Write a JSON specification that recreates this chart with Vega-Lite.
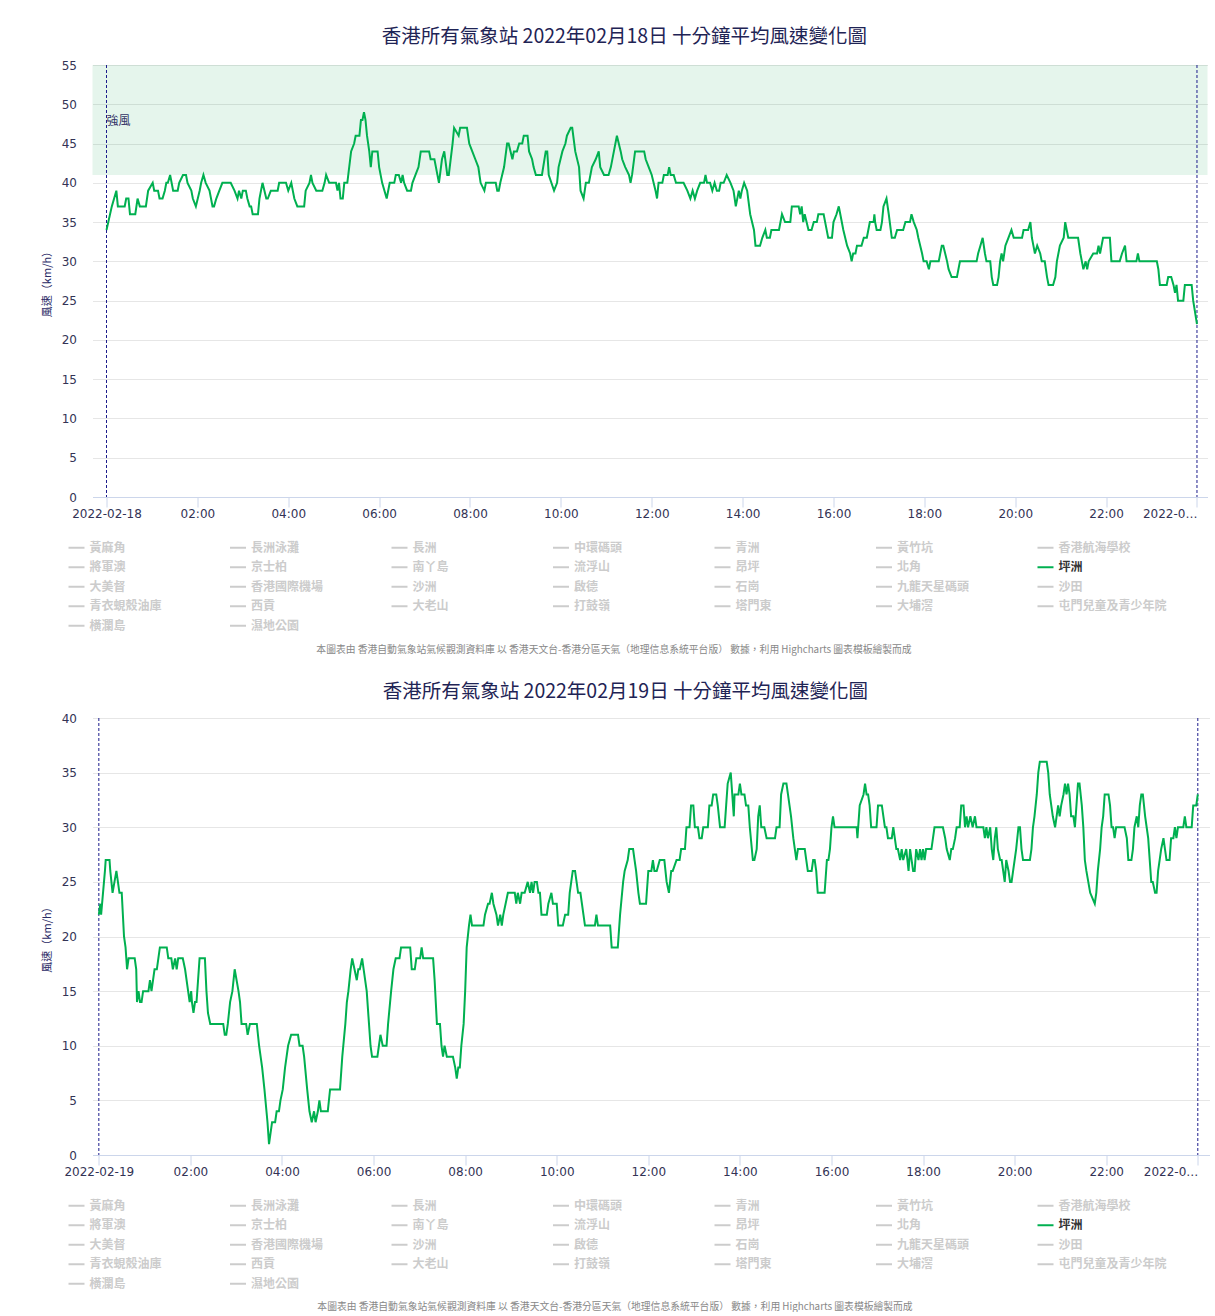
{
"$schema": "https://vega.github.io/schema/vega-lite/v6.json",
"background": "white",
"padding": {"left": 40.5, "top": 26, "right": 0, "bottom": 0},
"datasets": {
"feb18": [
{"time":"2022-02-18T00:00","speed":34},{"time":"2022-02-18T00:07","speed":37},{"time":"2022-02-18T00:13","speed":39},{"time":"2022-02-18T00:15","speed":37},{"time":"2022-02-18T00:24","speed":37},{"time":"2022-02-18T00:26","speed":38},{"time":"2022-02-18T00:29","speed":38},{"time":"2022-02-18T00:31","speed":36},{"time":"2022-02-18T00:38","speed":36},{"time":"2022-02-18T00:41","speed":38},{"time":"2022-02-18T00:44","speed":37},{"time":"2022-02-18T00:52","speed":37},{"time":"2022-02-18T00:55","speed":39},{"time":"2022-02-18T01:01","speed":40},{"time":"2022-02-18T01:03","speed":39},{"time":"2022-02-18T01:08","speed":39},{"time":"2022-02-18T01:10","speed":38},{"time":"2022-02-18T01:14","speed":38},{"time":"2022-02-18T01:17","speed":39},{"time":"2022-02-18T01:19","speed":40},{"time":"2022-02-18T01:21","speed":40},{"time":"2022-02-18T01:24","speed":41},{"time":"2022-02-18T01:28","speed":39},{"time":"2022-02-18T01:34","speed":39},{"time":"2022-02-18T01:36","speed":40},{"time":"2022-02-18T01:41","speed":41},{"time":"2022-02-18T01:45","speed":41},{"time":"2022-02-18T01:47","speed":40},{"time":"2022-02-18T01:52","speed":39},{"time":"2022-02-18T01:54","speed":38},{"time":"2022-02-18T01:58","speed":37},{"time":"2022-02-18T02:03","speed":39},{"time":"2022-02-18T02:05","speed":40},{"time":"2022-02-18T02:08","speed":41},{"time":"2022-02-18T02:11","speed":40},{"time":"2022-02-18T02:16","speed":39},{"time":"2022-02-18T02:20","speed":37},{"time":"2022-02-18T02:22","speed":37},{"time":"2022-02-18T02:25","speed":38},{"time":"2022-02-18T02:29","speed":39},{"time":"2022-02-18T02:33","speed":40},{"time":"2022-02-18T02:44","speed":40},{"time":"2022-02-18T02:49","speed":39},{"time":"2022-02-18T02:53","speed":38},{"time":"2022-02-18T02:55","speed":39},{"time":"2022-02-18T02:58","speed":38},{"time":"2022-02-18T03:00","speed":39},{"time":"2022-02-18T03:04","speed":39},{"time":"2022-02-18T03:06","speed":38},{"time":"2022-02-18T03:09","speed":37},{"time":"2022-02-18T03:11","speed":37},{"time":"2022-02-18T03:13","speed":36},{"time":"2022-02-18T03:20","speed":36},{"time":"2022-02-18T03:22","speed":38},{"time":"2022-02-18T03:24","speed":39},{"time":"2022-02-18T03:26","speed":40},{"time":"2022-02-18T03:31","speed":38},{"time":"2022-02-18T03:33","speed":38},{"time":"2022-02-18T03:37","speed":39},{"time":"2022-02-18T03:46","speed":39},{"time":"2022-02-18T03:48","speed":40},{"time":"2022-02-18T03:57","speed":40},{"time":"2022-02-18T04:00","speed":39},{"time":"2022-02-18T04:04","speed":40},{"time":"2022-02-18T04:06","speed":39},{"time":"2022-02-18T04:08","speed":38},{"time":"2022-02-18T04:12","speed":37},{"time":"2022-02-18T04:21","speed":37},{"time":"2022-02-18T04:23","speed":39},{"time":"2022-02-18T04:28","speed":40},{"time":"2022-02-18T04:30","speed":41},{"time":"2022-02-18T04:32","speed":40},{"time":"2022-02-18T04:37","speed":39},{"time":"2022-02-18T04:45","speed":39},{"time":"2022-02-18T04:48","speed":40},{"time":"2022-02-18T04:50","speed":41},{"time":"2022-02-18T04:54","speed":40},{"time":"2022-02-18T05:03","speed":40},{"time":"2022-02-18T05:05","speed":39},{"time":"2022-02-18T05:07","speed":40},{"time":"2022-02-18T05:09","speed":38},{"time":"2022-02-18T05:12","speed":38},{"time":"2022-02-18T05:14","speed":40},{"time":"2022-02-18T05:18","speed":40},{"time":"2022-02-18T05:23","speed":44},{"time":"2022-02-18T05:27","speed":45},{"time":"2022-02-18T05:29","speed":46},{"time":"2022-02-18T05:34","speed":46},{"time":"2022-02-18T05:36","speed":48},{"time":"2022-02-18T05:38","speed":48},{"time":"2022-02-18T05:40","speed":49},{"time":"2022-02-18T05:42","speed":48},{"time":"2022-02-18T05:44","speed":46},{"time":"2022-02-18T05:47","speed":44},{"time":"2022-02-18T05:49","speed":42},{"time":"2022-02-18T05:51","speed":44},{"time":"2022-02-18T05:58","speed":44},{"time":"2022-02-18T06:00","speed":42},{"time":"2022-02-18T06:04","speed":40},{"time":"2022-02-18T06:10","speed":38},{"time":"2022-02-18T06:14","speed":40},{"time":"2022-02-18T06:20","speed":40},{"time":"2022-02-18T06:22","speed":41},{"time":"2022-02-18T06:26","speed":41},{"time":"2022-02-18T06:29","speed":40},{"time":"2022-02-18T06:31","speed":41},{"time":"2022-02-18T06:33","speed":40},{"time":"2022-02-18T06:37","speed":39},{"time":"2022-02-18T06:42","speed":39},{"time":"2022-02-18T06:44","speed":40},{"time":"2022-02-18T06:48","speed":41},{"time":"2022-02-18T06:52","speed":42},{"time":"2022-02-18T06:55","speed":44},{"time":"2022-02-18T07:06","speed":44},{"time":"2022-02-18T07:08","speed":43},{"time":"2022-02-18T07:13","speed":43},{"time":"2022-02-18T07:15","speed":42},{"time":"2022-02-18T07:19","speed":40},{"time":"2022-02-18T07:23","speed":43},{"time":"2022-02-18T07:26","speed":44},{"time":"2022-02-18T07:30","speed":41},{"time":"2022-02-18T07:32","speed":41},{"time":"2022-02-18T07:37","speed":45},{"time":"2022-02-18T07:39","speed":47},{"time":"2022-02-18T07:45","speed":46},{"time":"2022-02-18T07:47","speed":47},{"time":"2022-02-18T07:56","speed":47},{"time":"2022-02-18T07:59","speed":45},{"time":"2022-02-18T08:03","speed":44},{"time":"2022-02-18T08:07","speed":43},{"time":"2022-02-18T08:11","speed":42},{"time":"2022-02-18T08:14","speed":40},{"time":"2022-02-18T08:19","speed":39},{"time":"2022-02-18T08:21","speed":40},{"time":"2022-02-18T08:34","speed":40},{"time":"2022-02-18T08:36","speed":39},{"time":"2022-02-18T08:38","speed":39},{"time":"2022-02-18T08:40","speed":40},{"time":"2022-02-18T08:45","speed":42},{"time":"2022-02-18T08:49","speed":45},{"time":"2022-02-18T08:51","speed":45},{"time":"2022-02-18T08:56","speed":43},{"time":"2022-02-18T08:58","speed":44},{"time":"2022-02-18T09:02","speed":44},{"time":"2022-02-18T09:05","speed":45},{"time":"2022-02-18T09:09","speed":45},{"time":"2022-02-18T09:11","speed":46},{"time":"2022-02-18T09:16","speed":46},{"time":"2022-02-18T09:18","speed":44},{"time":"2022-02-18T09:22","speed":43},{"time":"2022-02-18T09:24","speed":42},{"time":"2022-02-18T09:27","speed":41},{"time":"2022-02-18T09:35","speed":41},{"time":"2022-02-18T09:40","speed":44},{"time":"2022-02-18T09:42","speed":44},{"time":"2022-02-18T09:44","speed":41},{"time":"2022-02-18T09:51","speed":39},{"time":"2022-02-18T09:55","speed":40},{"time":"2022-02-18T09:57","speed":42},{"time":"2022-02-18T10:02","speed":44},{"time":"2022-02-18T10:06","speed":45},{"time":"2022-02-18T10:08","speed":46},{"time":"2022-02-18T10:13","speed":47},{"time":"2022-02-18T10:15","speed":47},{"time":"2022-02-18T10:19","speed":44},{"time":"2022-02-18T10:24","speed":42},{"time":"2022-02-18T10:26","speed":39},{"time":"2022-02-18T10:30","speed":38},{"time":"2022-02-18T10:33","speed":40},{"time":"2022-02-18T10:37","speed":40},{"time":"2022-02-18T10:39","speed":41},{"time":"2022-02-18T10:41","speed":42},{"time":"2022-02-18T10:46","speed":43},{"time":"2022-02-18T10:50","speed":44},{"time":"2022-02-18T10:52","speed":42},{"time":"2022-02-18T10:57","speed":41},{"time":"2022-02-18T11:03","speed":41},{"time":"2022-02-18T11:06","speed":42},{"time":"2022-02-18T11:10","speed":44},{"time":"2022-02-18T11:14","speed":46},{"time":"2022-02-18T11:19","speed":44},{"time":"2022-02-18T11:21","speed":43},{"time":"2022-02-18T11:25","speed":42},{"time":"2022-02-18T11:30","speed":41},{"time":"2022-02-18T11:32","speed":40},{"time":"2022-02-18T11:34","speed":41},{"time":"2022-02-18T11:38","speed":44},{"time":"2022-02-18T11:50","speed":44},{"time":"2022-02-18T11:52","speed":43},{"time":"2022-02-18T11:56","speed":42},{"time":"2022-02-18T12:00","speed":41},{"time":"2022-02-18T12:05","speed":39},{"time":"2022-02-18T12:07","speed":38},{"time":"2022-02-18T12:09","speed":40},{"time":"2022-02-18T12:14","speed":40},{"time":"2022-02-18T12:16","speed":41},{"time":"2022-02-18T12:21","speed":41},{"time":"2022-02-18T12:23","speed":42},{"time":"2022-02-18T12:25","speed":41},{"time":"2022-02-18T12:29","speed":41},{"time":"2022-02-18T12:32","speed":40},{"time":"2022-02-18T12:42","speed":40},{"time":"2022-02-18T12:47","speed":39},{"time":"2022-02-18T12:51","speed":38},{"time":"2022-02-18T12:54","speed":39},{"time":"2022-02-18T12:57","speed":38},{"time":"2022-02-18T13:00","speed":39},{"time":"2022-02-18T13:04","speed":40},{"time":"2022-02-18T13:09","speed":40},{"time":"2022-02-18T13:11","speed":41},{"time":"2022-02-18T13:13","speed":40},{"time":"2022-02-18T13:17","speed":40},{"time":"2022-02-18T13:20","speed":39},{"time":"2022-02-18T13:23","speed":40},{"time":"2022-02-18T13:26","speed":39},{"time":"2022-02-18T13:29","speed":39},{"time":"2022-02-18T13:31","speed":40},{"time":"2022-02-18T13:35","speed":40},{"time":"2022-02-18T13:39","speed":41},{"time":"2022-02-18T13:44","speed":40},{"time":"2022-02-18T13:48","speed":39},{"time":"2022-02-18T13:51","speed":37},{"time":"2022-02-18T13:55","speed":39},{"time":"2022-02-18T13:57","speed":38},{"time":"2022-02-18T13:59","speed":39},{"time":"2022-02-18T14:02","speed":40},{"time":"2022-02-18T14:06","speed":39},{"time":"2022-02-18T14:10","speed":36},{"time":"2022-02-18T14:15","speed":34},{"time":"2022-02-18T14:17","speed":32},{"time":"2022-02-18T14:23","speed":32},{"time":"2022-02-18T14:26","speed":33},{"time":"2022-02-18T14:30","speed":34},{"time":"2022-02-18T14:32","speed":33},{"time":"2022-02-18T14:36","speed":33},{"time":"2022-02-18T14:38","speed":34},{"time":"2022-02-18T14:48","speed":34},{"time":"2022-02-18T14:52","speed":36},{"time":"2022-02-18T14:56","speed":35},{"time":"2022-02-18T15:03","speed":35},{"time":"2022-02-18T15:05","speed":37},{"time":"2022-02-18T15:14","speed":37},{"time":"2022-02-18T15:16","speed":36},{"time":"2022-02-18T15:18","speed":37},{"time":"2022-02-18T15:20","speed":35},{"time":"2022-02-18T15:22","speed":36},{"time":"2022-02-18T15:27","speed":34},{"time":"2022-02-18T15:31","speed":34},{"time":"2022-02-18T15:34","speed":35},{"time":"2022-02-18T15:38","speed":35},{"time":"2022-02-18T15:40","speed":36},{"time":"2022-02-18T15:47","speed":36},{"time":"2022-02-18T15:49","speed":35},{"time":"2022-02-18T15:53","speed":33},{"time":"2022-02-18T15:58","speed":33},{"time":"2022-02-18T16:00","speed":35},{"time":"2022-02-18T16:04","speed":36},{"time":"2022-02-18T16:07","speed":37},{"time":"2022-02-18T16:09","speed":36},{"time":"2022-02-18T16:13","speed":34},{"time":"2022-02-18T16:18","speed":32},{"time":"2022-02-18T16:22","speed":31},{"time":"2022-02-18T16:24","speed":30},{"time":"2022-02-18T16:26","speed":31},{"time":"2022-02-18T16:29","speed":31},{"time":"2022-02-18T16:31","speed":32},{"time":"2022-02-18T16:37","speed":32},{"time":"2022-02-18T16:40","speed":33},{"time":"2022-02-18T16:44","speed":33},{"time":"2022-02-18T16:46","speed":34},{"time":"2022-02-18T16:48","speed":35},{"time":"2022-02-18T16:53","speed":35},{"time":"2022-02-18T16:54","speed":36},{"time":"2022-02-18T16:55","speed":35},{"time":"2022-02-18T16:57","speed":34},{"time":"2022-02-18T17:02","speed":34},{"time":"2022-02-18T17:04","speed":35},{"time":"2022-02-18T17:06","speed":37},{"time":"2022-02-18T17:10","speed":38},{"time":"2022-02-18T17:13","speed":36},{"time":"2022-02-18T17:17","speed":33},{"time":"2022-02-18T17:21","speed":33},{"time":"2022-02-18T17:24","speed":34},{"time":"2022-02-18T17:32","speed":34},{"time":"2022-02-18T17:35","speed":35},{"time":"2022-02-18T17:41","speed":35},{"time":"2022-02-18T17:43","speed":36},{"time":"2022-02-18T17:46","speed":35},{"time":"2022-02-18T17:50","speed":34},{"time":"2022-02-18T17:52","speed":33},{"time":"2022-02-18T17:57","speed":31},{"time":"2022-02-18T17:59","speed":30},{"time":"2022-02-18T18:03","speed":30},{"time":"2022-02-18T18:06","speed":29},{"time":"2022-02-18T18:08","speed":30},{"time":"2022-02-18T18:19","speed":30},{"time":"2022-02-18T18:23","speed":32},{"time":"2022-02-18T18:25","speed":32},{"time":"2022-02-18T18:30","speed":30},{"time":"2022-02-18T18:32","speed":29},{"time":"2022-02-18T18:36","speed":28},{"time":"2022-02-18T18:43","speed":28},{"time":"2022-02-18T18:47","speed":30},{"time":"2022-02-18T19:09","speed":30},{"time":"2022-02-18T19:11","speed":31},{"time":"2022-02-18T19:14","speed":32},{"time":"2022-02-18T19:17","speed":33},{"time":"2022-02-18T19:20","speed":31},{"time":"2022-02-18T19:22","speed":30},{"time":"2022-02-18T19:27","speed":30},{"time":"2022-02-18T19:29","speed":28},{"time":"2022-02-18T19:31","speed":27},{"time":"2022-02-18T19:36","speed":27},{"time":"2022-02-18T19:38","speed":28},{"time":"2022-02-18T19:40","speed":30},{"time":"2022-02-18T19:42","speed":31},{"time":"2022-02-18T19:44","speed":30},{"time":"2022-02-18T19:47","speed":32},{"time":"2022-02-18T19:51","speed":33},{"time":"2022-02-18T19:55","speed":34},{"time":"2022-02-18T19:58","speed":33},{"time":"2022-02-18T20:09","speed":33},{"time":"2022-02-18T20:11","speed":34},{"time":"2022-02-18T20:17","speed":34},{"time":"2022-02-18T20:20","speed":35},{"time":"2022-02-18T20:22","speed":33},{"time":"2022-02-18T20:24","speed":32},{"time":"2022-02-18T20:26","speed":31},{"time":"2022-02-18T20:29","speed":32},{"time":"2022-02-18T20:33","speed":31},{"time":"2022-02-18T20:35","speed":30},{"time":"2022-02-18T20:39","speed":30},{"time":"2022-02-18T20:42","speed":28},{"time":"2022-02-18T20:44","speed":27},{"time":"2022-02-18T20:50","speed":27},{"time":"2022-02-18T20:53","speed":28},{"time":"2022-02-18T20:55","speed":30},{"time":"2022-02-18T20:59","speed":32},{"time":"2022-02-18T21:04","speed":33},{"time":"2022-02-18T21:06","speed":35},{"time":"2022-02-18T21:08","speed":34},{"time":"2022-02-18T21:10","speed":33},{"time":"2022-02-18T21:23","speed":33},{"time":"2022-02-18T21:26","speed":31},{"time":"2022-02-18T21:28","speed":30},{"time":"2022-02-18T21:30","speed":29},{"time":"2022-02-18T21:33","speed":30},{"time":"2022-02-18T21:35","speed":29},{"time":"2022-02-18T21:37","speed":30},{"time":"2022-02-18T21:43","speed":31},{"time":"2022-02-18T21:48","speed":31},{"time":"2022-02-18T21:50","speed":32},{"time":"2022-02-18T21:52","speed":31},{"time":"2022-02-18T21:54","speed":32},{"time":"2022-02-18T21:56","speed":33},{"time":"2022-02-18T22:05","speed":33},{"time":"2022-02-18T22:07","speed":30},{"time":"2022-02-18T22:18","speed":30},{"time":"2022-02-18T22:21","speed":31},{"time":"2022-02-18T22:25","speed":32},{"time":"2022-02-18T22:27","speed":30},{"time":"2022-02-18T22:40","speed":30},{"time":"2022-02-18T22:42","speed":31},{"time":"2022-02-18T22:44","speed":30},{"time":"2022-02-18T23:07","speed":30},{"time":"2022-02-18T23:09","speed":29},{"time":"2022-02-18T23:11","speed":27},{"time":"2022-02-18T23:20","speed":27},{"time":"2022-02-18T23:22","speed":28},{"time":"2022-02-18T23:26","speed":28},{"time":"2022-02-18T23:29","speed":27},{"time":"2022-02-18T23:31","speed":26},{"time":"2022-02-18T23:33","speed":27},{"time":"2022-02-18T23:35","speed":25},{"time":"2022-02-18T23:42","speed":25},{"time":"2022-02-18T23:44","speed":27},{"time":"2022-02-18T23:53","speed":27},{"time":"2022-02-18T23:55","speed":25},{"time":"2022-02-19T00:00","speed":22}
],
"feb19": [
{"time":"2022-02-19T00:00","speed":22},{"time":"2022-02-19T00:02","speed":23},{"time":"2022-02-19T00:03","speed":22},{"time":"2022-02-19T00:08","speed":26},{"time":"2022-02-19T00:09","speed":27},{"time":"2022-02-19T00:14","speed":27},{"time":"2022-02-19T00:15","speed":26},{"time":"2022-02-19T00:18","speed":24},{"time":"2022-02-19T00:23","speed":26},{"time":"2022-02-19T00:27","speed":24},{"time":"2022-02-19T00:30","speed":24},{"time":"2022-02-19T00:33","speed":20},{"time":"2022-02-19T00:35","speed":19},{"time":"2022-02-19T00:37","speed":17},{"time":"2022-02-19T00:39","speed":18},{"time":"2022-02-19T00:47","speed":18},{"time":"2022-02-19T00:49","speed":17},{"time":"2022-02-19T00:50","speed":14},{"time":"2022-02-19T00:52","speed":15},{"time":"2022-02-19T00:54","speed":14},{"time":"2022-02-19T00:56","speed":14},{"time":"2022-02-19T00:58","speed":15},{"time":"2022-02-19T01:05","speed":15},{"time":"2022-02-19T01:07","speed":16},{"time":"2022-02-19T01:09","speed":15},{"time":"2022-02-19T01:13","speed":17},{"time":"2022-02-19T01:16","speed":17},{"time":"2022-02-19T01:18","speed":18},{"time":"2022-02-19T01:20","speed":19},{"time":"2022-02-19T01:29","speed":19},{"time":"2022-02-19T01:31","speed":18},{"time":"2022-02-19T01:35","speed":18},{"time":"2022-02-19T01:37","speed":17},{"time":"2022-02-19T01:40","speed":18},{"time":"2022-02-19T01:42","speed":17},{"time":"2022-02-19T01:44","speed":18},{"time":"2022-02-19T01:50","speed":18},{"time":"2022-02-19T01:53","speed":17},{"time":"2022-02-19T01:57","speed":15},{"time":"2022-02-19T01:59","speed":14},{"time":"2022-02-19T02:01","speed":15},{"time":"2022-02-19T02:02","speed":14},{"time":"2022-02-19T02:04","speed":13},{"time":"2022-02-19T02:06","speed":14},{"time":"2022-02-19T02:08","speed":14},{"time":"2022-02-19T02:10","speed":16},{"time":"2022-02-19T02:12","speed":18},{"time":"2022-02-19T02:19","speed":18},{"time":"2022-02-19T02:21","speed":15},{"time":"2022-02-19T02:23","speed":13},{"time":"2022-02-19T02:26","speed":12},{"time":"2022-02-19T02:43","speed":12},{"time":"2022-02-19T02:45","speed":11},{"time":"2022-02-19T02:47","speed":11},{"time":"2022-02-19T02:49","speed":12},{"time":"2022-02-19T02:52","speed":14},{"time":"2022-02-19T02:55","speed":15},{"time":"2022-02-19T02:58","speed":17},{"time":"2022-02-19T03:03","speed":15},{"time":"2022-02-19T03:05","speed":14},{"time":"2022-02-19T03:07","speed":12},{"time":"2022-02-19T03:13","speed":12},{"time":"2022-02-19T03:15","speed":11},{"time":"2022-02-19T03:18","speed":12},{"time":"2022-02-19T03:27","speed":12},{"time":"2022-02-19T03:30","speed":10},{"time":"2022-02-19T03:34","speed":8},{"time":"2022-02-19T03:37","speed":6},{"time":"2022-02-19T03:41","speed":3},{"time":"2022-02-19T03:43","speed":1},{"time":"2022-02-19T03:45","speed":2},{"time":"2022-02-19T03:47","speed":3},{"time":"2022-02-19T03:51","speed":3},{"time":"2022-02-19T03:53","speed":4},{"time":"2022-02-19T03:56","speed":4},{"time":"2022-02-19T03:58","speed":5},{"time":"2022-02-19T04:01","speed":6},{"time":"2022-02-19T04:04","speed":8},{"time":"2022-02-19T04:08","speed":10},{"time":"2022-02-19T04:12","speed":11},{"time":"2022-02-19T04:21","speed":11},{"time":"2022-02-19T04:23","speed":10},{"time":"2022-02-19T04:27","speed":10},{"time":"2022-02-19T04:29","speed":9},{"time":"2022-02-19T04:33","speed":6},{"time":"2022-02-19T04:36","speed":4},{"time":"2022-02-19T04:39","speed":3},{"time":"2022-02-19T04:42","speed":4},{"time":"2022-02-19T04:44","speed":3},{"time":"2022-02-19T04:47","speed":4},{"time":"2022-02-19T04:49","speed":5},{"time":"2022-02-19T04:51","speed":4},{"time":"2022-02-19T05:00","speed":4},{"time":"2022-02-19T05:03","speed":6},{"time":"2022-02-19T05:16","speed":6},{"time":"2022-02-19T05:19","speed":9},{"time":"2022-02-19T05:23","speed":12},{"time":"2022-02-19T05:25","speed":14},{"time":"2022-02-19T05:27","speed":15},{"time":"2022-02-19T05:30","speed":17},{"time":"2022-02-19T05:32","speed":18},{"time":"2022-02-19T05:35","speed":17},{"time":"2022-02-19T05:38","speed":16},{"time":"2022-02-19T05:40","speed":17},{"time":"2022-02-19T05:42","speed":17},{"time":"2022-02-19T05:45","speed":18},{"time":"2022-02-19T05:47","speed":17},{"time":"2022-02-19T05:51","speed":15},{"time":"2022-02-19T05:54","speed":12},{"time":"2022-02-19T05:56","speed":10},{"time":"2022-02-19T05:58","speed":9},{"time":"2022-02-19T06:05","speed":9},{"time":"2022-02-19T06:07","speed":10},{"time":"2022-02-19T06:09","speed":11},{"time":"2022-02-19T06:12","speed":10},{"time":"2022-02-19T06:17","speed":10},{"time":"2022-02-19T06:19","speed":12},{"time":"2022-02-19T06:23","speed":15},{"time":"2022-02-19T06:26","speed":17},{"time":"2022-02-19T06:29","speed":18},{"time":"2022-02-19T06:34","speed":18},{"time":"2022-02-19T06:36","speed":19},{"time":"2022-02-19T06:48","speed":19},{"time":"2022-02-19T06:50","speed":17},{"time":"2022-02-19T06:54","speed":17},{"time":"2022-02-19T06:56","speed":18},{"time":"2022-02-19T07:01","speed":18},{"time":"2022-02-19T07:03","speed":19},{"time":"2022-02-19T07:05","speed":18},{"time":"2022-02-19T07:18","speed":18},{"time":"2022-02-19T07:20","speed":16},{"time":"2022-02-19T07:23","speed":12},{"time":"2022-02-19T07:27","speed":12},{"time":"2022-02-19T07:29","speed":10},{"time":"2022-02-19T07:31","speed":9},{"time":"2022-02-19T07:33","speed":10},{"time":"2022-02-19T07:36","speed":9},{"time":"2022-02-19T07:44","speed":9},{"time":"2022-02-19T07:47","speed":8},{"time":"2022-02-19T07:49","speed":7},{"time":"2022-02-19T07:51","speed":8},{"time":"2022-02-19T07:53","speed":8},{"time":"2022-02-19T07:55","speed":10},{"time":"2022-02-19T07:58","speed":12},{"time":"2022-02-19T08:00","speed":15},{"time":"2022-02-19T08:02","speed":19},{"time":"2022-02-19T08:05","speed":21},{"time":"2022-02-19T08:07","speed":22},{"time":"2022-02-19T08:09","speed":21},{"time":"2022-02-19T08:24","speed":21},{"time":"2022-02-19T08:26","speed":22},{"time":"2022-02-19T08:30","speed":23},{"time":"2022-02-19T08:32","speed":23},{"time":"2022-02-19T08:35","speed":24},{"time":"2022-02-19T08:37","speed":23},{"time":"2022-02-19T08:41","speed":22},{"time":"2022-02-19T08:43","speed":21},{"time":"2022-02-19T08:46","speed":22},{"time":"2022-02-19T08:48","speed":21},{"time":"2022-02-19T08:50","speed":22},{"time":"2022-02-19T08:53","speed":23},{"time":"2022-02-19T08:56","speed":24},{"time":"2022-02-19T09:05","speed":24},{"time":"2022-02-19T09:07","speed":23},{"time":"2022-02-19T09:09","speed":24},{"time":"2022-02-19T09:12","speed":23},{"time":"2022-02-19T09:14","speed":24},{"time":"2022-02-19T09:18","speed":24},{"time":"2022-02-19T09:22","speed":25},{"time":"2022-02-19T09:25","speed":24},{"time":"2022-02-19T09:27","speed":25},{"time":"2022-02-19T09:29","speed":24},{"time":"2022-02-19T09:31","speed":25},{"time":"2022-02-19T09:34","speed":25},{"time":"2022-02-19T09:36","speed":24},{"time":"2022-02-19T09:38","speed":24},{"time":"2022-02-19T09:40","speed":22},{"time":"2022-02-19T09:47","speed":22},{"time":"2022-02-19T09:49","speed":23},{"time":"2022-02-19T09:53","speed":24},{"time":"2022-02-19T09:55","speed":23},{"time":"2022-02-19T10:00","speed":23},{"time":"2022-02-19T10:02","speed":21},{"time":"2022-02-19T10:08","speed":21},{"time":"2022-02-19T10:11","speed":22},{"time":"2022-02-19T10:15","speed":22},{"time":"2022-02-19T10:17","speed":24},{"time":"2022-02-19T10:19","speed":25},{"time":"2022-02-19T10:21","speed":26},{"time":"2022-02-19T10:24","speed":26},{"time":"2022-02-19T10:26","speed":25},{"time":"2022-02-19T10:28","speed":24},{"time":"2022-02-19T10:31","speed":24},{"time":"2022-02-19T10:33","speed":23},{"time":"2022-02-19T10:35","speed":22},{"time":"2022-02-19T10:37","speed":21},{"time":"2022-02-19T10:50","speed":21},{"time":"2022-02-19T10:52","speed":22},{"time":"2022-02-19T10:54","speed":21},{"time":"2022-02-19T11:10","speed":21},{"time":"2022-02-19T11:12","speed":19},{"time":"2022-02-19T11:20","speed":19},{"time":"2022-02-19T11:23","speed":22},{"time":"2022-02-19T11:27","speed":25},{"time":"2022-02-19T11:29","speed":26},{"time":"2022-02-19T11:33","speed":27},{"time":"2022-02-19T11:35","speed":28},{"time":"2022-02-19T11:40","speed":28},{"time":"2022-02-19T11:42","speed":27},{"time":"2022-02-19T11:44","speed":26},{"time":"2022-02-19T11:47","speed":24},{"time":"2022-02-19T11:49","speed":23},{"time":"2022-02-19T11:57","speed":23},{"time":"2022-02-19T12:00","speed":26},{"time":"2022-02-19T12:04","speed":26},{"time":"2022-02-19T12:06","speed":27},{"time":"2022-02-19T12:08","speed":26},{"time":"2022-02-19T12:11","speed":26},{"time":"2022-02-19T12:15","speed":27},{"time":"2022-02-19T12:21","speed":27},{"time":"2022-02-19T12:24","speed":25},{"time":"2022-02-19T12:27","speed":24},{"time":"2022-02-19T12:30","speed":26},{"time":"2022-02-19T12:32","speed":26},{"time":"2022-02-19T12:37","speed":27},{"time":"2022-02-19T12:41","speed":27},{"time":"2022-02-19T12:43","speed":28},{"time":"2022-02-19T12:48","speed":28},{"time":"2022-02-19T12:50","speed":30},{"time":"2022-02-19T12:54","speed":30},{"time":"2022-02-19T12:56","speed":32},{"time":"2022-02-19T12:59","speed":32},{"time":"2022-02-19T13:01","speed":30},{"time":"2022-02-19T13:05","speed":30},{"time":"2022-02-19T13:07","speed":29},{"time":"2022-02-19T13:10","speed":29},{"time":"2022-02-19T13:12","speed":30},{"time":"2022-02-19T13:18","speed":30},{"time":"2022-02-19T13:20","speed":32},{"time":"2022-02-19T13:23","speed":32},{"time":"2022-02-19T13:25","speed":33},{"time":"2022-02-19T13:29","speed":33},{"time":"2022-02-19T13:31","speed":32},{"time":"2022-02-19T13:34","speed":30},{"time":"2022-02-19T13:40","speed":30},{"time":"2022-02-19T13:42","speed":32},{"time":"2022-02-19T13:44","speed":34},{"time":"2022-02-19T13:48","speed":35},{"time":"2022-02-19T13:50","speed":33},{"time":"2022-02-19T13:52","speed":31},{"time":"2022-02-19T13:53","speed":33},{"time":"2022-02-19T13:58","speed":33},{"time":"2022-02-19T14:00","speed":34},{"time":"2022-02-19T14:02","speed":33},{"time":"2022-02-19T14:06","speed":33},{"time":"2022-02-19T14:08","speed":32},{"time":"2022-02-19T14:11","speed":32},{"time":"2022-02-19T14:13","speed":30},{"time":"2022-02-19T14:17","speed":27},{"time":"2022-02-19T14:19","speed":27},{"time":"2022-02-19T14:22","speed":28},{"time":"2022-02-19T14:24","speed":31},{"time":"2022-02-19T14:26","speed":32},{"time":"2022-02-19T14:28","speed":30},{"time":"2022-02-19T14:32","speed":30},{"time":"2022-02-19T14:35","speed":29},{"time":"2022-02-19T14:46","speed":29},{"time":"2022-02-19T14:48","speed":30},{"time":"2022-02-19T14:52","speed":30},{"time":"2022-02-19T14:54","speed":33},{"time":"2022-02-19T14:57","speed":34},{"time":"2022-02-19T15:01","speed":34},{"time":"2022-02-19T15:03","speed":33},{"time":"2022-02-19T15:05","speed":32},{"time":"2022-02-19T15:07","speed":31},{"time":"2022-02-19T15:10","speed":29},{"time":"2022-02-19T15:12","speed":28},{"time":"2022-02-19T15:14","speed":27},{"time":"2022-02-19T15:16","speed":28},{"time":"2022-02-19T15:25","speed":28},{"time":"2022-02-19T15:27","speed":27},{"time":"2022-02-19T15:29","speed":26},{"time":"2022-02-19T15:34","speed":26},{"time":"2022-02-19T15:36","speed":27},{"time":"2022-02-19T15:38","speed":27},{"time":"2022-02-19T15:40","speed":26},{"time":"2022-02-19T15:42","speed":24},{"time":"2022-02-19T15:51","speed":24},{"time":"2022-02-19T15:54","speed":27},{"time":"2022-02-19T15:56","speed":27},{"time":"2022-02-19T15:58","speed":28},{"time":"2022-02-19T16:00","speed":30},{"time":"2022-02-19T16:02","speed":31},{"time":"2022-02-19T16:04","speed":30},{"time":"2022-02-19T16:33","speed":30},{"time":"2022-02-19T16:34","speed":29},{"time":"2022-02-19T16:35","speed":30},{"time":"2022-02-19T16:37","speed":32},{"time":"2022-02-19T16:42","speed":33},{"time":"2022-02-19T16:44","speed":34},{"time":"2022-02-19T16:46","speed":33},{"time":"2022-02-19T16:48","speed":33},{"time":"2022-02-19T16:50","speed":32},{"time":"2022-02-19T16:52","speed":30},{"time":"2022-02-19T16:59","speed":30},{"time":"2022-02-19T17:01","speed":32},{"time":"2022-02-19T17:06","speed":32},{"time":"2022-02-19T17:10","speed":30},{"time":"2022-02-19T17:12","speed":30},{"time":"2022-02-19T17:14","speed":29},{"time":"2022-02-19T17:19","speed":29},{"time":"2022-02-19T17:21","speed":30},{"time":"2022-02-19T17:23","speed":29},{"time":"2022-02-19T17:25","speed":28},{"time":"2022-02-19T17:27","speed":28},{"time":"2022-02-19T17:30","speed":27},{"time":"2022-02-19T17:32","speed":28},{"time":"2022-02-19T17:34","speed":27},{"time":"2022-02-19T17:38","speed":28},{"time":"2022-02-19T17:41","speed":26},{"time":"2022-02-19T17:43","speed":28},{"time":"2022-02-19T17:45","speed":27},{"time":"2022-02-19T17:47","speed":26},{"time":"2022-02-19T17:49","speed":26},{"time":"2022-02-19T17:51","speed":28},{"time":"2022-02-19T17:54","speed":27},{"time":"2022-02-19T17:56","speed":28},{"time":"2022-02-19T17:58","speed":27},{"time":"2022-02-19T18:00","speed":28},{"time":"2022-02-19T18:02","speed":27},{"time":"2022-02-19T18:04","speed":28},{"time":"2022-02-19T18:11","speed":28},{"time":"2022-02-19T18:13","speed":29},{"time":"2022-02-19T18:15","speed":30},{"time":"2022-02-19T18:26","speed":30},{"time":"2022-02-19T18:29","speed":29},{"time":"2022-02-19T18:31","speed":28},{"time":"2022-02-19T18:35","speed":27},{"time":"2022-02-19T18:37","speed":28},{"time":"2022-02-19T18:39","speed":28},{"time":"2022-02-19T18:42","speed":29},{"time":"2022-02-19T18:44","speed":30},{"time":"2022-02-19T18:48","speed":30},{"time":"2022-02-19T18:50","speed":32},{"time":"2022-02-19T18:53","speed":32},{"time":"2022-02-19T18:55","speed":30},{"time":"2022-02-19T18:57","speed":31},{"time":"2022-02-19T18:59","speed":30},{"time":"2022-02-19T19:02","speed":31},{"time":"2022-02-19T19:05","speed":30},{"time":"2022-02-19T19:08","speed":31},{"time":"2022-02-19T19:10","speed":30},{"time":"2022-02-19T19:19","speed":30},{"time":"2022-02-19T19:21","speed":29},{"time":"2022-02-19T19:23","speed":30},{"time":"2022-02-19T19:25","speed":29},{"time":"2022-02-19T19:28","speed":30},{"time":"2022-02-19T19:30","speed":28},{"time":"2022-02-19T19:32","speed":27},{"time":"2022-02-19T19:34","speed":29},{"time":"2022-02-19T19:36","speed":30},{"time":"2022-02-19T19:38","speed":28},{"time":"2022-02-19T19:41","speed":27},{"time":"2022-02-19T19:43","speed":27},{"time":"2022-02-19T19:45","speed":26},{"time":"2022-02-19T19:47","speed":25},{"time":"2022-02-19T19:49","speed":27},{"time":"2022-02-19T19:52","speed":26},{"time":"2022-02-19T19:54","speed":25},{"time":"2022-02-19T19:56","speed":25},{"time":"2022-02-19T19:58","speed":26},{"time":"2022-02-19T20:02","speed":28},{"time":"2022-02-19T20:05","speed":30},{"time":"2022-02-19T20:07","speed":30},{"time":"2022-02-19T20:09","speed":28},{"time":"2022-02-19T20:11","speed":27},{"time":"2022-02-19T20:20","speed":27},{"time":"2022-02-19T20:22","speed":28},{"time":"2022-02-19T20:24","speed":30},{"time":"2022-02-19T20:26","speed":31},{"time":"2022-02-19T20:29","speed":33},{"time":"2022-02-19T20:31","speed":35},{"time":"2022-02-19T20:33","speed":36},{"time":"2022-02-19T20:42","speed":36},{"time":"2022-02-19T20:44","speed":35},{"time":"2022-02-19T20:46","speed":33},{"time":"2022-02-19T20:48","speed":32},{"time":"2022-02-19T20:50","speed":31},{"time":"2022-02-19T20:53","speed":30},{"time":"2022-02-19T20:55","speed":31},{"time":"2022-02-19T20:57","speed":32},{"time":"2022-02-19T20:59","speed":31},{"time":"2022-02-19T21:01","speed":32},{"time":"2022-02-19T21:04","speed":33},{"time":"2022-02-19T21:06","speed":34},{"time":"2022-02-19T21:08","speed":33},{"time":"2022-02-19T21:10","speed":34},{"time":"2022-02-19T21:12","speed":33},{"time":"2022-02-19T21:14","speed":31},{"time":"2022-02-19T21:17","speed":31},{"time":"2022-02-19T21:19","speed":30},{"time":"2022-02-19T21:21","speed":32},{"time":"2022-02-19T21:23","speed":34},{"time":"2022-02-19T21:25","speed":34},{"time":"2022-02-19T21:28","speed":32},{"time":"2022-02-19T21:30","speed":30},{"time":"2022-02-19T21:32","speed":27},{"time":"2022-02-19T21:34","speed":26},{"time":"2022-02-19T21:39","speed":24},{"time":"2022-02-19T21:45","speed":23},{"time":"2022-02-19T21:47","speed":24},{"time":"2022-02-19T21:49","speed":26},{"time":"2022-02-19T21:52","speed":28},{"time":"2022-02-19T21:54","speed":30},{"time":"2022-02-19T21:56","speed":31},{"time":"2022-02-19T21:58","speed":33},{"time":"2022-02-19T22:03","speed":33},{"time":"2022-02-19T22:05","speed":32},{"time":"2022-02-19T22:07","speed":30},{"time":"2022-02-19T22:09","speed":30},{"time":"2022-02-19T22:11","speed":29},{"time":"2022-02-19T22:13","speed":30},{"time":"2022-02-19T22:24","speed":30},{"time":"2022-02-19T22:27","speed":29},{"time":"2022-02-19T22:29","speed":27},{"time":"2022-02-19T22:33","speed":27},{"time":"2022-02-19T22:35","speed":28},{"time":"2022-02-19T22:37","speed":30},{"time":"2022-02-19T22:40","speed":31},{"time":"2022-02-19T22:42","speed":30},{"time":"2022-02-19T22:44","speed":32},{"time":"2022-02-19T22:46","speed":33},{"time":"2022-02-19T22:48","speed":33},{"time":"2022-02-19T22:51","speed":31},{"time":"2022-02-19T22:53","speed":30},{"time":"2022-02-19T22:55","speed":29},{"time":"2022-02-19T22:57","speed":27},{"time":"2022-02-19T22:59","speed":25},{"time":"2022-02-19T23:01","speed":25},{"time":"2022-02-19T23:04","speed":24},{"time":"2022-02-19T23:06","speed":24},{"time":"2022-02-19T23:08","speed":26},{"time":"2022-02-19T23:10","speed":27},{"time":"2022-02-19T23:12","speed":28},{"time":"2022-02-19T23:15","speed":29},{"time":"2022-02-19T23:17","speed":28},{"time":"2022-02-19T23:19","speed":27},{"time":"2022-02-19T23:23","speed":27},{"time":"2022-02-19T23:25","speed":29},{"time":"2022-02-19T23:28","speed":29},{"time":"2022-02-19T23:30","speed":30},{"time":"2022-02-19T23:32","speed":29},{"time":"2022-02-19T23:34","speed":30},{"time":"2022-02-19T23:41","speed":30},{"time":"2022-02-19T23:43","speed":31},{"time":"2022-02-19T23:45","speed":30},{"time":"2022-02-19T23:52","speed":30},{"time":"2022-02-19T23:54","speed":32},{"time":"2022-02-19T23:58","speed":32},{"time":"2022-02-20T00:00","speed":33}
],
"bounds18": [{"time":"2022-02-18T00:00"},{"time":"2022-02-19T00:00"}],
"bounds19": [{"time":"2022-02-19T00:00"},{"time":"2022-02-20T00:00"}],
"band18": [{"from":41,"to":55,"time":"2022-02-18T00:00","label":"強風","labelAt":47.9}],
"stations": [
{"station":"黃麻角","order":0},{"station":"長洲泳灘","order":1},{"station":"長洲","order":2},{"station":"中環碼頭","order":3},{"station":"青洲","order":4},{"station":"黃竹坑","order":5},{"station":"香港航海學校","order":6},
{"station":"將軍澳","order":7},{"station":"京士柏","order":8},{"station":"南丫島","order":9},{"station":"流浮山","order":10},{"station":"昂坪","order":11},{"station":"北角","order":12},{"station":"坪洲","order":13},
{"station":"大美督","order":14},{"station":"香港國際機場","order":15},{"station":"沙洲","order":16},{"station":"啟德","order":17},{"station":"石崗","order":18},{"station":"九龍天星碼頭","order":19},{"station":"沙田","order":20},
{"station":"青衣蜆殼油庫","order":21},{"station":"西貢","order":22},{"station":"大老山","order":23},{"station":"打鼓嶺","order":24},{"station":"塔門東","order":25},{"station":"大埔滘","order":26},{"station":"屯門兒童及青少年院","order":27},
{"station":"橫瀾島","order":28},{"station":"濕地公園","order":29}
]
},
"vconcat": [
{
"title": {"text": "香港所有氣象站 2022年02月18日 十分鐘平均風速變化圖", "fontSize": 19.5, "color": "#1f2455", "fontWeight": "normal", "anchor": "middle", "frame": "bounds", "offset": 12},
"width": 1115,
"height": 432,
"layer": [
{"data": {"name": "band18"}, "mark": {"type": "rect", "color": "#00a040", "opacity": 0.1}, "encoding": {
"y": {"field": "from", "type": "quantitative", "scale": {"domain": [0, 55]}, "axis": {"title": "風速（km/h）", "values": [0,5,10,15,20,25,30,35,40,45,50,55]}},
"y2": {"field": "to"}}},
{"data": {"name": "bounds18"}, "mark": {"type": "rule", "color": "#1c1c8c", "strokeDash": [3, 2], "strokeWidth": 1}, "encoding": {"x": {"field": "time", "type": "temporal"}}},
{"data": {"name": "feb18"}, "mark": {"type": "line", "strokeWidth": 2, "color": "#00b050"}, "encoding": {
"x": {"field": "time", "type": "temporal", "scale": {"domain": [{"year": 2022, "month": 2, "date": 17, "hours": 23, "minutes": 41, "seconds": 30}, {"year": 2022, "month": 2, "date": 19, "hours": 0, "minutes": 13, "seconds": 54}]}, "axis": {"title": null,
"values": [{"year":2022,"month":2,"date":18,"hours":0},{"year":2022,"month":2,"date":18,"hours":2},{"year":2022,"month":2,"date":18,"hours":4},{"year":2022,"month":2,"date":18,"hours":6},{"year":2022,"month":2,"date":18,"hours":8},{"year":2022,"month":2,"date":18,"hours":10},{"year":2022,"month":2,"date":18,"hours":12},{"year":2022,"month":2,"date":18,"hours":14},{"year":2022,"month":2,"date":18,"hours":16},{"year":2022,"month":2,"date":18,"hours":18},{"year":2022,"month":2,"date":18,"hours":20},{"year":2022,"month":2,"date":18,"hours":22},{"year":2022,"month":2,"date":19,"hours":0}],
"labelExpr": "hours(datum.value) == 0 ? (date(datum.value) == 18 ? '2022-02-18' : '2022-0…') : timeFormat(datum.value, '%H:%M')",
"labelAlign": {"condition": {"test": "date(datum.value) == 19", "value": "right"}, "value": "center"}}},
"y": {"field": "speed", "type": "quantitative", "scale": {"domain": [0, 55]}, "axis": {"title": "風速（km/h）", "values": [0,5,10,15,20,25,30,35,40,45,50,55]}}
}},
{"data": {"name": "band18"}, "mark": {"type": "text", "align": "left", "baseline": "middle", "fontSize": 12, "color": "#333366"}, "encoding": {"x": {"field": "time", "type": "temporal"}, "y": {"field": "labelAt", "type": "quantitative", "scale": {"domain": [0, 55]}, "axis": {"title": "風速（km/h）", "values": [0,5,10,15,20,25,30,35,40,45,50,55]}}, "text": {"field": "label"}}}
]
},
{
"data": {"name": "stations"},
"transform": [{"calculate": "datum.order % 7", "as": "col"}, {"calculate": "floor(datum.order / 7)", "as": "row"}],
"title": {"text": "本圖表由 香港自動氣象站氣候觀測資料庫 以 香港天文台-香港分區天氣（地理信息系統平台版） 數據，利用 Highcharts 圖表模板繪製而成", "orient": "bottom", "anchor": "middle", "fontSize": 9.8, "color": "#888888", "fontWeight": "normal", "offset": 9, "dx": -36},
"width": 1115,
"height": 97.5,
"layer": [
{"mark": {"type": "rule", "strokeWidth": 2, "x2Offset": 16}, "encoding": {
"x": {"field": "col", "type": "quantitative", "scale": {"domain": [0.1486, 7.0527], "nice": false, "zero": false}, "axis": null},
"x2": {"field": "col"},
"y": {"field": "row", "type": "ordinal", "axis": null},
"color": {"condition": {"test": "datum.station === '坪洲'", "value": "#00b050"}, "value": "#cccccc"}}},
{"mark": {"type": "text", "align": "left", "baseline": "middle", "dx": 21, "fontSize": 12, "fontWeight": "bold"}, "encoding": {
"x": {"field": "col", "type": "quantitative", "scale": {"domain": [0.1486, 7.0527], "nice": false, "zero": false}, "axis": null},
"y": {"field": "row", "type": "ordinal", "axis": null},
"text": {"field": "station"},
"color": {"condition": {"test": "datum.station === '坪洲'", "value": "#333333"}, "value": "#cccccc"}}}
]
},
{
"title": {"text": "\u00a0", "fontSize": 6, "subtitle": "香港所有氣象站 2022年02月19日 十分鐘平均風速變化圖", "subtitleFontSize": 19.5, "subtitleColor": "#1f2455", "subtitleFont": "Noto Sans CJK TC", "subtitleFontWeight": "normal", "subtitlePadding": 2, "anchor": "middle", "frame": "bounds", "offset": 11},
"width": 1117,
"height": 437,
"layer": [
{"data": {"name": "bounds19"}, "mark": {"type": "rule", "color": "#1c1c8c", "strokeDash": [3, 2], "strokeWidth": 1}, "encoding": {"x": {"field": "time", "type": "temporal"}}},
{"data": {"name": "feb19"}, "mark": {"type": "line", "strokeWidth": 2, "color": "#00b050"}, "encoding": {
"x": {"field": "time", "type": "temporal", "scale": {"domain": [{"year": 2022, "month": 2, "date": 18, "hours": 23, "minutes": 51, "seconds": 42}, {"year": 2022, "month": 2, "date": 20, "hours": 0, "minutes": 15, "seconds": 20}]}, "axis": {"title": null,
"values": [{"year":2022,"month":2,"date":19,"hours":0},{"year":2022,"month":2,"date":19,"hours":2},{"year":2022,"month":2,"date":19,"hours":4},{"year":2022,"month":2,"date":19,"hours":6},{"year":2022,"month":2,"date":19,"hours":8},{"year":2022,"month":2,"date":19,"hours":10},{"year":2022,"month":2,"date":19,"hours":12},{"year":2022,"month":2,"date":19,"hours":14},{"year":2022,"month":2,"date":19,"hours":16},{"year":2022,"month":2,"date":19,"hours":18},{"year":2022,"month":2,"date":19,"hours":20},{"year":2022,"month":2,"date":19,"hours":22},{"year":2022,"month":2,"date":20,"hours":0}],
"labelExpr": "hours(datum.value) == 0 ? (date(datum.value) == 19 ? '2022-02-19' : '2022-0…') : timeFormat(datum.value, '%H:%M')",
"labelAlign": {"condition": {"test": "date(datum.value) == 20", "value": "right"}, "value": "center"}}},
"y": {"field": "speed", "type": "quantitative", "scale": {"domain": [0, 40]}, "axis": {"title": "風速（km/h）", "values": [0,5,10,15,20,25,30,35,40]}}
}}
]
},
{
"data": {"name": "stations"},
"transform": [{"calculate": "datum.order % 7", "as": "col"}, {"calculate": "floor(datum.order / 7)", "as": "row"}],
"title": {"text": "本圖表由 香港自動氣象站氣候觀測資料庫 以 香港天文台-香港分區天氣（地理信息系統平台版） 數據，利用 Highcharts 圖表模板繪製而成", "orient": "bottom", "anchor": "middle", "fontSize": 9.8, "color": "#888888", "fontWeight": "normal", "offset": 8, "dx": -36},
"width": 1117,
"height": 97.5,
"layer": [
{"mark": {"type": "rule", "strokeWidth": 2, "x2Offset": 16}, "encoding": {
"x": {"field": "col", "type": "quantitative", "scale": {"domain": [0.1486, 7.065], "nice": false, "zero": false}, "axis": null},
"x2": {"field": "col"},
"y": {"field": "row", "type": "ordinal", "axis": null},
"color": {"condition": {"test": "datum.station === '坪洲'", "value": "#00b050"}, "value": "#cccccc"}}},
{"mark": {"type": "text", "align": "left", "baseline": "middle", "dx": 21, "fontSize": 12, "fontWeight": "bold"}, "encoding": {
"x": {"field": "col", "type": "quantitative", "scale": {"domain": [0.1486, 7.065], "nice": false, "zero": false}, "axis": null},
"y": {"field": "row", "type": "ordinal", "axis": null},
"text": {"field": "station"},
"color": {"condition": {"test": "datum.station === '坪洲'", "value": "#333333"}, "value": "#cccccc"}}}
]
}
],
"spacing": 19,
"resolve": {"scale": {"x": "independent", "y": "independent"}},
"config": {
"view": {"stroke": null},
"font": "Noto Sans CJK TC",
"axis": {"labelFont": "DejaVu Sans", "labelFontSize": 12, "labelColor": "#333355", "titleFont": "Noto Sans CJK TC", "titleFontWeight": "normal", "titleFontSize": 11, "titleColor": "#2a2a66"},
"axisY": {"domain": false, "ticks": false, "grid": true, "gridColor": "#e6e6e6", "labelPadding": 16, "titlePadding": 9},
"axisX": {"grid": false, "domainColor": "#ccd6eb", "tickColor": "#ccd6eb", "tickSize": 10, "labelPadding": 1, "labelOverlap": false, "labelFlush": false},
"title": {"font": "Noto Sans CJK TC"}
}
}
